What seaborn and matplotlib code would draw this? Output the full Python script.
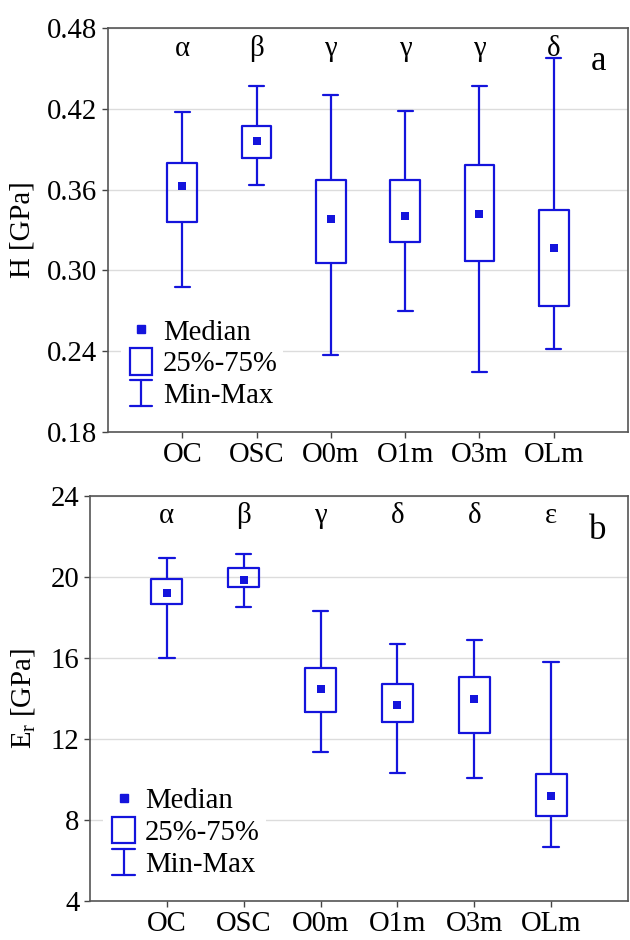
import numpy as np
import pandas as pd
import matplotlib
matplotlib.use("Agg")
import matplotlib.pyplot as plt
import seaborn as sns
from matplotlib.legend_handler import HandlerBase
from matplotlib.patches import Rectangle
from matplotlib.lines import Line2D
import matplotlib.transforms as mtransforms

# ---------------- data ----------------
groups = ["OC", "OSC", "O0m", "O1m", "O3m", "OLm"]

# Hardness H [GPa]
H_min = [0.288, 0.3635, 0.237, 0.270, 0.2245, 0.2417]
H_q1 = [0.3356, 0.3837, 0.3057, 0.321, 0.3072, 0.2733]
H_med = [0.3625, 0.3963, 0.3385, 0.3405, 0.3417, 0.317]
H_q3 = [0.380, 0.4069, 0.3674, 0.3669, 0.3783, 0.3452]
H_max = [0.4175, 0.437, 0.4301, 0.4185, 0.437, 0.4578]
H_letters = ["α", "β", "γ", "γ", "γ", "δ"]

# Reduced modulus Er [GPa]
E_min = [15.98, 18.50, 11.37, 10.32, 10.09, 6.66]
E_q1 = [18.68, 19.52, 13.32, 12.84, 12.30, 8.20]
E_med = [19.23, 19.87, 14.45, 13.70, 13.96, 9.20]
E_q3 = [19.90, 20.44, 15.52, 14.73, 15.04, 10.27]
E_max = [20.92, 21.13, 18.32, 16.68, 16.88, 15.78]
E_letters = ["α", "β", "γ", "δ", "δ", "ε"]

H_ticks = [0.18, 0.24, 0.30, 0.36, 0.42, 0.48]
E_ticks = [4, 8, 12, 16, 20, 24]

# ---------------- style ----------------
sns.set_theme(style="white")
plt.rcParams["font.family"] = ["Liberation Serif", "DejaVu Serif"]
plt.rcParams["mathtext.fontset"] = "custom"
plt.rcParams["mathtext.rm"] = "Liberation Serif"
plt.rcParams["mathtext.it"] = "Liberation Serif:italic"
plt.rcParams["text.color"] = "black"
plt.rcParams["axes.labelcolor"] = "black"

BLUE = "#1414dc"
FS = 20.7


class BoxHandler(HandlerBase):
    def create_artists(self, legend, orig_handle, xdescent, ydescent,
                       width, height, fontsize, trans):
        w = 16
        h = 19
        x0 = (width - w) / 2 - xdescent
        y0 = (height - h) / 2 - ydescent
        r = Rectangle((x0, y0), w, h, facecolor="white", edgecolor=BLUE,
                      linewidth=1.6, transform=trans)
        return [r]


class WhiskerHandler(HandlerBase):
    def create_artists(self, legend, orig_handle, xdescent, ydescent,
                       width, height, fontsize, trans):
        cw = 16
        h = 19
        cx = width / 2 - xdescent
        y0 = (height - h) / 2 - ydescent
        arts = [
            Line2D([cx, cx], [y0, y0 + h], color=BLUE, lw=1.6, transform=trans),
            Line2D([cx - cw / 2, cx + cw / 2], [y0, y0], color=BLUE, lw=1.6, transform=trans),
            Line2D([cx - cw / 2, cx + cw / 2], [y0 + h, y0 + h], color=BLUE, lw=1.6, transform=trans),
        ]
        return arts


class BoxKey:
    pass


class WhiskKey:
    pass


def panel(ax, mins, q1s, meds, q3s, maxs, letters, ticks, ylabel, tag, lab_x, letter_y):
    rows = []
    for g, a, b, c, d, e in zip(groups, mins, q1s, meds, q3s, maxs):
        for v in (a, b, c, d, e):
            rows.append({"group": g, "value": v})
    df = pd.DataFrame(rows)
    sns.boxplot(data=df, x="group", y="value", order=groups, whis=(0, 100),
                width=0.4, fill=False, color=BLUE, linecolor=BLUE, linewidth=1.6,
                medianprops={"visible": False}, showfliers=False, ax=ax)
    med_df = pd.DataFrame({"group": groups, "value": meds})
    sns.scatterplot(data=med_df, x="group", y="value", marker="s", s=36,
                    color=BLUE, edgecolor=BLUE, linewidth=0, ax=ax, zorder=5)
    ax.set_xlim(-1, 6)
    ax.set_ylim(ticks[0], ticks[-1])
    ax.set_yticks(ticks)
    if isinstance(ticks[0], float):
        ax.set_yticklabels([f"{t:.2f}" for t in ticks])
    ax.set_xlabel("")
    ax.set_ylabel(ylabel, fontsize=FS, color="black")
    ax.yaxis.set_label_coords(lab_x, 0.5)
    ax.tick_params(axis="both", labelsize=FS, length=4, width=1, direction="out",
                   colors="#444444", labelcolor="black", left=True, bottom=True)
    ax.tick_params(axis="x", pad=3)
    ax.yaxis.grid(True, color="#dcdcdc", linewidth=1.0)
    ax.set_axisbelow(True)
    for s in ax.spines.values():
        s.set_color("#555555")
        s.set_linewidth(1.2)
    trans = mtransforms.blended_transform_factory(ax.transData, ax.transAxes)
    for i, L in enumerate(letters):
        ax.text(i, letter_y, L, transform=trans, ha="center", va="baseline",
                fontsize=FS)
    ax.text(0.944, 0.895, tag, transform=ax.transAxes, ha="center",
            va="baseline", fontsize=25)
    h_med = Line2D([], [], marker="s", linestyle="none", color=BLUE,
                   markersize=5.5)
    leg = ax.legend([h_med, BoxKey(), WhiskKey()],
                    ["Median", "25%-75%", "Min-Max"],
                    handler_map={BoxKey: BoxHandler(), WhiskKey: WhiskerHandler()},
                    loc="upper left", fontsize=FS, frameon=True,
                    handlelength=1.0, handletextpad=0.25, labelspacing=0.2,
                    borderpad=0.2, borderaxespad=0.0)
    fr = leg.get_frame()
    fr.set_facecolor("white")
    fr.set_edgecolor("none")
    fr.set_alpha(1)
    fr.set_boxstyle("square", pad=0)
    return leg


fig = plt.figure(figsize=(6.3, 9.4), dpi=100)
ax1 = fig.add_axes([108 / 630, 1 - 432 / 940, 520 / 630, 404 / 940])
ax2 = fig.add_axes([90 / 630, 1 - 901 / 940, 538 / 630, 405 / 940])

leg1 = panel(ax1, H_min, H_q1, H_med, H_q3, H_max, H_letters, H_ticks,
             "H [GPa]", "a", -0.140, 0.93)
leg1.set_bbox_to_anchor((0.025, 0.293), transform=ax1.transAxes)

leg2 = panel(ax2, E_min, E_q1, E_med, E_q3, E_max, E_letters, E_ticks,
             "E$_\\mathrm{r}$ [GPa]", "b", -0.0985, 0.933)
leg2.set_bbox_to_anchor((0.025, 0.293), transform=ax2.transAxes)

fig.savefig("out.png", dpi=100, facecolor="white")
